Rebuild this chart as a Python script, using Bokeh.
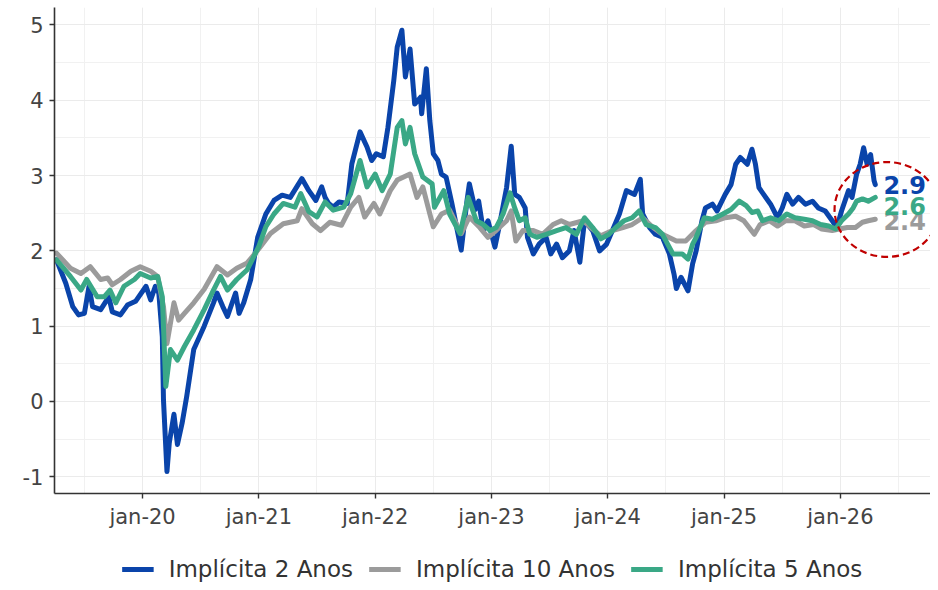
from bokeh.plotting import figure
from bokeh.models import (Range1d, SingleIntervalTicker, CustomJSTickFormatter, Legend,
                          LegendItem)
from bokeh.layouts import column
from bokeh.embed import file_html
from bokeh.resources import INLINE
from bokeh.core.properties import value

# ---------------- data (decimal years, % values) ----------------
x_2y = [2019.26, 2019.34, 2019.40, 2019.45, 2019.50, 2019.54, 2019.57, 2019.64, 2019.71, 2019.74,
        2019.81, 2019.87, 2019.94, 2020.03, 2020.07, 2020.11, 2020.14, 2020.17, 2020.18, 2020.21,
        2020.23, 2020.27, 2020.30, 2020.34, 2020.38, 2020.44, 2020.53, 2020.61, 2020.64, 2020.69,
        2020.73, 2020.80, 2020.83, 2020.87, 2020.93, 2020.99, 2021.06, 2021.13, 2021.20, 2021.27,
        2021.37, 2021.43, 2021.49, 2021.54, 2021.57, 2021.60, 2021.64, 2021.69, 2021.76, 2021.80,
        2021.87, 2021.93, 2021.97, 2022.01, 2022.07, 2022.11, 2022.16, 2022.19, 2022.23, 2022.26,
        2022.30, 2022.34, 2022.39, 2022.40, 2022.44, 2022.47, 2022.50, 2022.54, 2022.57, 2022.61,
        2022.66, 2022.70, 2022.74, 2022.79, 2022.81, 2022.86, 2022.89, 2022.93, 2022.97, 2023.03,
        2023.07, 2023.13, 2023.17, 2023.20, 2023.24, 2023.29, 2023.31, 2023.36, 2023.41, 2023.47,
        2023.51, 2023.56, 2023.61, 2023.67, 2023.71, 2023.76, 2023.80, 2023.87, 2023.93, 2023.99,
        2024.04, 2024.10, 2024.16, 2024.23, 2024.28, 2024.30, 2024.36, 2024.41, 2024.47, 2024.53,
        2024.57, 2024.59, 2024.63, 2024.69, 2024.73, 2024.76, 2024.81, 2024.84, 2024.90, 2024.94,
        2025.01, 2025.06, 2025.10, 2025.14, 2025.20, 2025.24, 2025.27, 2025.30, 2025.34, 2025.40,
        2025.46, 2025.50, 2025.54, 2025.59, 2025.64, 2025.70, 2025.76, 2025.81, 2025.87, 2025.93,
        2025.97, 2026.01, 2026.07, 2026.10, 2026.14, 2026.17, 2026.20, 2026.23, 2026.26, 2026.29,
        2026.30]
y_2y = [1.88, 1.57, 1.26, 1.15, 1.17, 1.53, 1.26, 1.22, 1.39, 1.19,
        1.15, 1.28, 1.33, 1.53, 1.35, 1.53, 1.44, 0.86, 0.02, -0.93,
        -0.55, -0.17, -0.57, -0.29, 0.07, 0.69, 1.00, 1.31, 1.44, 1.26,
        1.13, 1.44, 1.17, 1.31, 1.62, 2.18, 2.49, 2.67, 2.74, 2.71,
        2.96, 2.80, 2.67, 2.85, 2.71, 2.63, 2.58, 2.65, 2.63, 3.16,
        3.58, 3.38, 3.20, 3.29, 3.25, 3.64, 4.26, 4.71, 4.93, 4.31,
        4.68, 3.95, 4.04, 3.82, 4.42, 3.73, 3.29, 3.20, 3.02, 2.98,
        2.63, 2.32, 2.01, 2.67, 2.89, 2.55, 2.66, 2.27, 2.40, 2.05,
        2.35, 2.84, 3.39, 2.75, 2.71, 2.57, 2.18, 1.96, 2.09, 2.18,
        1.96, 2.09, 1.91, 2.00, 2.27, 1.85, 2.40, 2.27, 2.00, 2.09,
        2.27, 2.49, 2.80, 2.75, 2.95, 2.49, 2.31, 2.22, 2.18, 1.96,
        1.69, 1.50, 1.65, 1.47, 1.83, 2.00, 2.40, 2.57, 2.62, 2.53,
        2.75, 2.88, 3.15, 3.24, 3.15, 3.35, 3.15, 2.84, 2.75, 2.62,
        2.44, 2.57, 2.75, 2.62, 2.71, 2.62, 2.66, 2.57, 2.53, 2.40,
        2.31, 2.53, 2.80, 2.71, 3.02, 3.15, 3.37, 3.15, 3.28, 2.93,
        2.88]

x_10y = [2019.26, 2019.38, 2019.47, 2019.55, 2019.64, 2019.70, 2019.74, 2019.81, 2019.90, 2019.98,
         2020.07, 2020.13, 2020.18, 2020.21, 2020.27, 2020.31, 2020.36, 2020.44, 2020.53, 2020.64,
         2020.73, 2020.81, 2020.90, 2020.97, 2021.01, 2021.10, 2021.21, 2021.33, 2021.37, 2021.46,
         2021.53, 2021.61, 2021.71, 2021.79, 2021.86, 2021.91, 2021.99, 2022.04, 2022.13, 2022.19,
         2022.30, 2022.36, 2022.41, 2022.47, 2022.50, 2022.57, 2022.64, 2022.74, 2022.81, 2022.90,
         2022.97, 2023.04, 2023.13, 2023.17, 2023.21, 2023.27, 2023.36, 2023.44, 2023.53, 2023.60,
         2023.67, 2023.79, 2023.87, 2023.94, 2024.04, 2024.13, 2024.21, 2024.30, 2024.39, 2024.47,
         2024.59, 2024.67, 2024.76, 2024.84, 2024.93, 2025.01, 2025.10, 2025.17, 2025.26, 2025.31,
         2025.39, 2025.46, 2025.53, 2025.61, 2025.69, 2025.77, 2025.84, 2025.93, 2025.99, 2026.06,
         2026.13, 2026.19, 2026.24, 2026.30]
y_10y = [1.97, 1.77, 1.70, 1.79, 1.62, 1.64, 1.55, 1.62, 1.73, 1.79,
         1.73, 1.66, 1.26, 0.77, 1.31, 1.08, 1.17, 1.31, 1.49, 1.79,
         1.68, 1.77, 1.84, 1.97, 2.05, 2.23, 2.36, 2.40, 2.56, 2.36,
         2.27, 2.38, 2.34, 2.58, 2.71, 2.45, 2.63, 2.49, 2.80, 2.94,
         3.02, 2.71, 2.85, 2.49, 2.32, 2.49, 2.54, 2.23, 2.45, 2.31,
         2.18, 2.27, 2.40, 2.53, 2.13, 2.27, 2.27, 2.22, 2.35, 2.40,
         2.35, 2.40, 2.29, 2.20, 2.27, 2.31, 2.35, 2.44, 2.31, 2.22,
         2.13, 2.13, 2.27, 2.38, 2.40, 2.44, 2.46, 2.40, 2.22, 2.35,
         2.40, 2.33, 2.40, 2.40, 2.33, 2.35, 2.29, 2.27, 2.29, 2.31,
         2.31, 2.38, 2.40, 2.42]

x_5y = [2019.26, 2019.38, 2019.47, 2019.52, 2019.61, 2019.67, 2019.72, 2019.77, 2019.84, 2019.93,
        2019.98, 2020.07, 2020.13, 2020.17, 2020.20, 2020.24, 2020.30, 2020.36, 2020.44, 2020.53,
        2020.61, 2020.67, 2020.73, 2020.81, 2020.90, 2021.00, 2021.06, 2021.13, 2021.21, 2021.31,
        2021.36, 2021.43, 2021.50, 2021.57, 2021.64, 2021.73, 2021.79, 2021.87, 2021.93, 2022.00,
        2022.06, 2022.13, 2022.19, 2022.23, 2022.26, 2022.30, 2022.34, 2022.41, 2022.49, 2022.51,
        2022.59, 2022.64, 2022.73, 2022.80, 2022.87, 2022.93, 2022.99, 2023.04, 2023.10, 2023.16,
        2023.20, 2023.24, 2023.29, 2023.33, 2023.39, 2023.47, 2023.56, 2023.64, 2023.73, 2023.80,
        2023.87, 2023.94, 2024.01, 2024.07, 2024.14, 2024.21, 2024.27, 2024.33, 2024.41, 2024.47,
        2024.56, 2024.64, 2024.69, 2024.73, 2024.76, 2024.83, 2024.90, 2024.99, 2025.06, 2025.13,
        2025.19, 2025.24, 2025.29, 2025.33, 2025.40, 2025.47, 2025.54, 2025.61, 2025.69, 2025.76,
        2025.83, 2025.90, 2025.96, 2026.01, 2026.07, 2026.11, 2026.14, 2026.19, 2026.24, 2026.30]
y_5y = [1.88, 1.66, 1.48, 1.62, 1.39, 1.39, 1.48, 1.31, 1.53, 1.62,
        1.70, 1.64, 1.66, 1.39, 0.20, 0.69, 0.55, 0.73, 0.95, 1.22,
        1.48, 1.66, 1.48, 1.62, 1.75, 2.06, 2.32, 2.49, 2.63, 2.58,
        2.76, 2.52, 2.45, 2.65, 2.54, 2.58, 2.76, 3.20, 2.85, 3.02,
        2.80, 3.02, 3.64, 3.73, 3.42, 3.64, 3.29, 2.98, 2.89, 2.58,
        2.80, 2.49, 2.23, 2.71, 2.40, 2.35, 2.27, 2.31, 2.49, 2.77,
        2.57, 2.40, 2.44, 2.22, 2.18, 2.22, 2.27, 2.31, 2.22, 2.44,
        2.31, 2.16, 2.22, 2.31, 2.40, 2.44, 2.53, 2.35, 2.31, 2.22,
        1.96, 1.96, 1.89, 2.09, 2.18, 2.44, 2.42, 2.49, 2.55, 2.66,
        2.60, 2.51, 2.53, 2.40, 2.44, 2.40, 2.49, 2.44, 2.42, 2.40,
        2.35, 2.33, 2.29, 2.40, 2.49, 2.57, 2.66, 2.69, 2.66, 2.71]

series_names = ["Implícita 2 Anos", "Implícita 10 Anos", "Implícita 5 Anos"]
series_colors = ["#0A44AA", "#9B9B9B", "#3AA886"]
last_labels = ["2.9", "2.4", "2.6"]
last_label_values = [2.87, 2.40, 2.60]
label_x = 2026.37

highlight_x = 2026.40
highlight_y = 2.55
highlight_w = 0.90
highlight_h = 1.26

LINE_W = 5

# ---------------- main figure ----------------
p = figure(width=930, height=548, output_backend="svg", toolbar_location=None,
           x_range=Range1d(2019.243, 2026.775), y_range=Range1d(-1.222, 5.232),
           min_border_left=54, min_border_right=0, min_border_top=7, min_border_bottom=55)
p.outline_line_color = None
p.background_fill_color = "white"
p.border_fill_color = "white"

p.xaxis.ticker = SingleIntervalTicker(interval=1, num_minor_ticks=2)
p.yaxis.ticker = SingleIntervalTicker(interval=1, num_minor_ticks=2)
p.xaxis.formatter = CustomJSTickFormatter(code="return 'jan-' + String(Math.round(tick) - 2000);")
p.yaxis.formatter = CustomJSTickFormatter(code="return Math.round(tick).toFixed(0);")

for ax in (p.xaxis, p.yaxis):
    ax.axis_line_color = "#333333"
    ax.axis_line_width = 1.6
    ax.major_tick_line_color = "#333333"
    ax.major_tick_line_width = 1.4
    ax.major_tick_out = 5
    ax.major_tick_in = 0
    ax.minor_tick_line_color = None
    ax.major_label_text_font = "DejaVu Sans"
    ax.major_label_text_font_size = "21px"
    ax.major_label_text_color = "#444444"
    ax.major_label_standoff = 6

p.xgrid.grid_line_color = "#EBEBEB"
p.ygrid.grid_line_color = "#EBEBEB"
p.xgrid.minor_grid_line_color = "#F1F1F1"
p.ygrid.minor_grid_line_color = "#F1F1F1"

xs = [x_2y, x_10y, x_5y]
ys = [y_2y, y_10y, y_5y]
for xv, yv, c in zip(xs, ys, series_colors):
    p.line(xv, yv, line_color=c, line_width=LINE_W, line_join="round", line_cap="round")

# end-of-series labels
for txt, yv, c in zip(last_labels, last_label_values, series_colors):
    p.text(x=[label_x], y=[yv], text=[txt], text_color=c, text_font=value("DejaVu Sans"),
           text_font_size="24px", text_font_style="bold", text_align="left",
           text_baseline="middle")

# dashed highlight ellipse
p.ellipse(x=[highlight_x], y=[highlight_y], width=highlight_w, height=highlight_h,
          fill_color=None, line_color="#C00000", line_width=2.2, line_dash="7 4")

# ---------------- legend strip ----------------
# same series drawn on a strip whose y-range lies far outside the data (only legend is visible)
leg = figure(width=930, height=34, output_backend="svg", toolbar_location=None,
             x_range=Range1d(2019.243, 2026.775), y_range=Range1d(100, 101),
             x_axis_type=None, y_axis_type=None,
             min_border_left=54, min_border_right=0, min_border_top=0, min_border_bottom=0)
leg.outline_line_color = None
leg.grid.visible = False
leg_renderers = [leg.line(xv, yv, line_color=c, line_width=LINE_W)
                 for xv, yv, c in zip(xs, ys, series_colors)]
legend = Legend(items=[LegendItem(label=n, renderers=[r]) for n, r in zip(series_names, leg_renderers)],
                orientation="horizontal", location="bottom_center", margin=0, padding=0,
                border_line_color=None, background_fill_alpha=0,
                glyph_width=32, glyph_height=20, label_standoff=15, spacing=16,
                label_text_font="DejaVu Sans", label_text_font_size="23px",
                label_text_color="#333333")
leg.add_layout(legend, "center")

layout = column(p, leg, spacing=0)
open("out.html", "w").write(file_html(layout, INLINE))
